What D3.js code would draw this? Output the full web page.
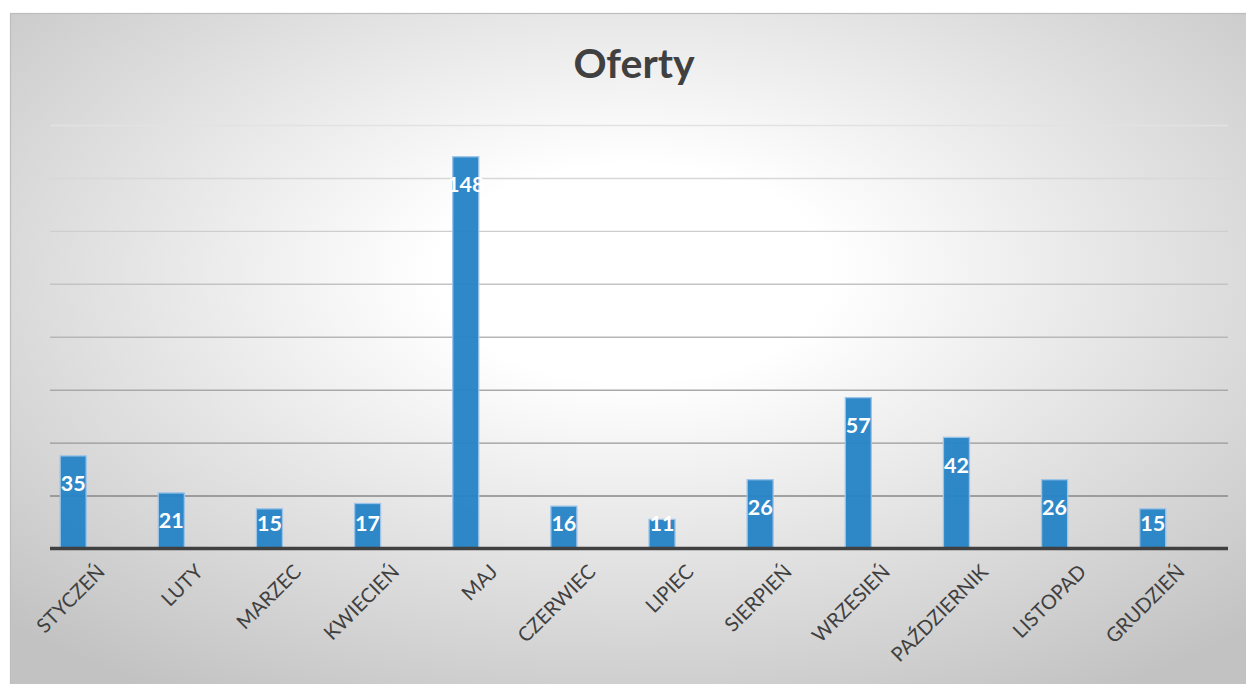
<!DOCTYPE html>
<html>
<head>
<meta charset="utf-8">
<script src="https://cdn.jsdelivr.net/npm/d3@7"></script>
<style>
  html, body { margin: 0; padding: 0; background: #ffffff; }
  svg { display: block; }
</style>
</head>
<body>
<svg id="chart" width="1246" height="684"></svg>
<script>
const title = "Oferty";
const categories = ["STYCZEŃ", "LUTY", "MARZEC", "KWIECIEŃ", "MAJ", "CZERWIEC", "LIPIEC", "SIERPIEŃ", "WRZESIEŃ", "PAŹDZIERNIK", "LISTOPAD", "GRUDZIEŃ"];
const values = [35, 21, 15, 17, 148, 16, 11, 26, 57, 42, 26, 15];
const gridTicks = [20, 40, 60, 80, 100, 120, 140, 160];

const svg = d3.select("#chart");
const W = 1246, H = 684;
const font = "Lato, 'Open Sans', sans-serif";

const defs = svg.append("defs");
const bg = defs.append("radialGradient")
  .attr("id", "bg").attr("cx", "0.5").attr("cy", "0.38").attr("r", "0.72")
  .attr("fx", "0.5").attr("fy", "0.38");
bg.append("stop").attr("offset", "0").attr("stop-color", "#ffffff");
bg.append("stop").attr("offset", "0.22").attr("stop-color", "#ffffff");
bg.append("stop").attr("offset", "1").attr("stop-color", "#c2c2c2");

// frame
svg.append("rect")
  .attr("x", 10.5).attr("y", 13.5).attr("width", W).attr("height", H)
  .attr("fill", "url(#bg)").attr("stroke", "#bdbdbd").attr("stroke-width", 1.2);

// scales
const plotLeft = 50, plotRight = 1228;
const y = d3.scaleLinear().domain([0, 160]).range([548.5, 125]);
const x = d3.scaleBand().domain(categories).range([24.1, 1201.8])
  .paddingInner(0.735).paddingOuter(0.3675);

// gridlines via axis
const gAxis = svg.append("g")
  .attr("transform", `translate(${plotLeft},0)`)
  .call(d3.axisLeft(y).tickValues(gridTicks).tickSize(-(plotRight - plotLeft)).tickFormat(""));
gAxis.select(".domain").remove();
gAxis.selectAll(".tick line").each(function(d) {
  const t = (160 - d) / 140;
  const c = d3.interpolateRgbBasis(["#e2e2e2", "#cbcbcb", "#b0b0b0", "#878787"])(t);
  d3.select(this).attr("stroke", c).attr("stroke-width", 1.4);
});

// title
svg.append("text")
  .attr("x", 634).attr("y", 78)
  .attr("text-anchor", "middle")
  .attr("font-family", font).attr("font-weight", "bold").attr("font-size", 41)
  .attr("fill", "#404040")
  .text(title);

// bars
svg.append("g").selectAll("rect")
  .data(values)
  .join("rect")
  .attr("x", (d, i) => x(categories[i]))
  .attr("y", d => y(d))
  .attr("width", x.bandwidth())
  .attr("height", d => y(0) - y(d))
  .attr("fill", "#2683c6").attr("fill-opacity", 0.96)
  .attr("stroke", "#9cc4e8").attr("stroke-width", 1.3);

// data labels
svg.append("g").selectAll("text")
  .data(values)
  .join("text")
  .attr("x", (d, i) => x(categories[i]) + x.bandwidth() / 2)
  .attr("y", d => Math.min(y(d) + 35.5, y(0) - 17.5))
  .attr("text-anchor", "middle")
  .attr("font-family", font).attr("font-weight", "bold").attr("font-size", 21.5)
  .attr("fill", "#ffffff")
  .text(d => d);

// x axis baseline
const xAxisG = svg.append("g").attr("transform", `translate(0,${y(0)})`);
xAxisG.append("line")
  .attr("x1", plotLeft).attr("x2", plotRight)
  .attr("stroke", "#404040").attr("stroke-width", 3.5);

// category labels
svg.append("g").selectAll("text")
  .data(categories)
  .join("text")
  .attr("transform", d => `translate(${x(d) + x.bandwidth() / 2 + 33},${573}) rotate(-45)`)
  .attr("text-anchor", "end")
  .attr("font-family", font).attr("font-size", 20)
  .attr("fill", "#404040")
  .text(d => d);
</script>
</body>
</html>
